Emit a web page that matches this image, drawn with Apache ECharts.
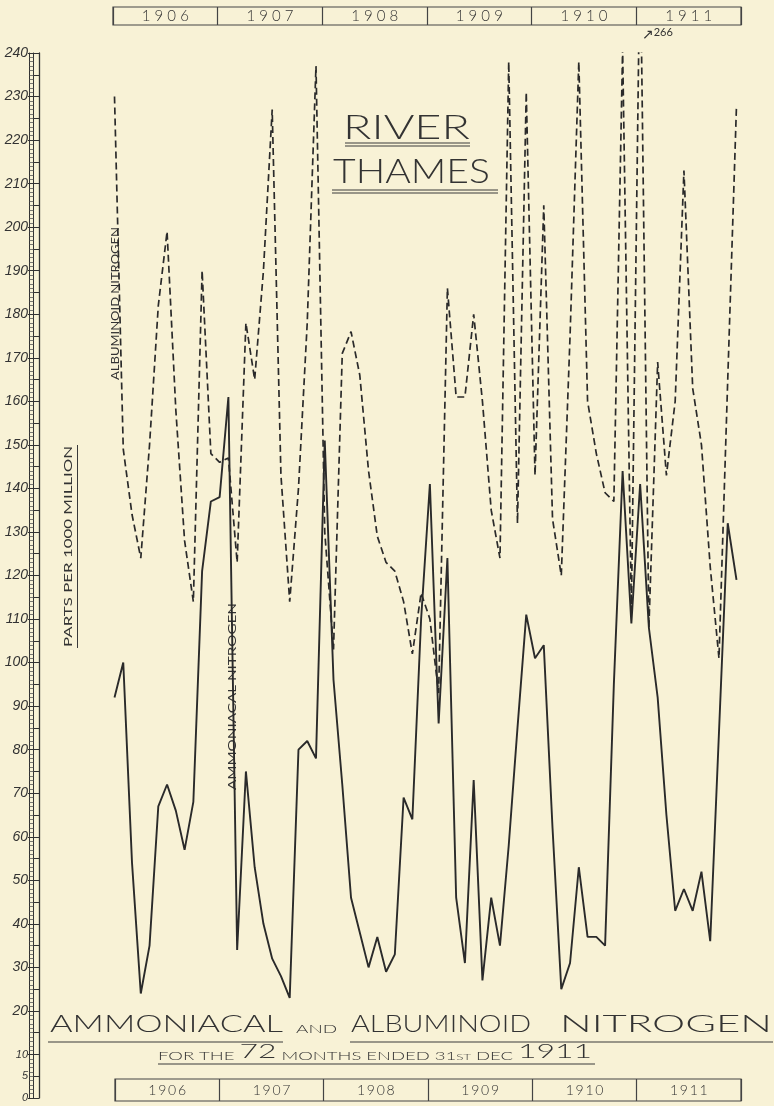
<!DOCTYPE html>
<html>
<head>
<meta charset="utf-8">
<script src="https://cdn.jsdelivr.net/npm/echarts@6/dist/echarts.min.js"></script>
<style>
html,body{margin:0;padding:0;background:#f8f2d6;}
#c{width:774px;height:1106px;}
</style>
</head>
<body>
<div id="c"></div>
<script>
// ---- data ----
const years = ['1906', '1907', '1908', '1909', '1910', '1911'];
const monthNames = ['Jan','Feb','Mar','Apr','May','Jun','Jul','Aug','Sep','Oct','Nov','Dec'];
const months = [];
years.forEach(y => monthNames.forEach(m => months.push(m + ' ' + y)));

// Ammoniacal nitrogen, parts per 1000 million (solid line)
const ammoniacal = [
  92, 100, 54, 24, 35, 67, 72, 66, 57, 68, 121, 137,
  138, 161, 34, 75, 53, 40, 32, 28, 23, 80, 82, 78,
  151, 96, 72, 46, 38, 30, 37, 29, 33, 69, 64, 110,
  141, 86, 124, 46, 31, 73, 27, 46, 35, 58, 85, 111,
  101, 104, 62, 25, 31, 53, 37, 37, 35, 95, 144, 109,
  141, 108, 92, 65, 43, 48, 43, 52, 36, 84, 132, 119
];
// Albuminoid nitrogen, parts per 1000 million (dashed line)
const albuminoid = [
  230, 149, 134, 124, 150, 182, 199, 158, 128, 114, 190, 148,
  146, 147, 123, 178, 165, 190, 227, 143, 114, 140, 178, 237,
  130, 103, 171, 176, 166, 144, 129, 123, 121, 114, 102, 116,
  110, 93, 186, 161, 161, 180, 160, 135, 124, 238, 132, 231,
  143, 205, 133, 120, 175, 238, 160, 148, 139, 137, 241, 112,
  266, 108, 169, 143, 160, 213, 163, 150, 122, 101, 165, 228
];
const offScaleIndex = 60; // the 266 reading runs off the top of the scale

// ---- style ----
const INK = '#333';
const LINE = '#2a2a2a';
const HAND = 'Lato, "Open Sans", "DejaVu Sans", sans-serif';

const ctx = document.createElement('canvas').getContext('2d');
function textW(font, s) { ctx.font = font; return ctx.measureText(s).width; }
function fitText(text, font, x1, x2, yc) {
  return { type: 'text', x: x1, y: yc, scaleX: (x2 - x1) / textW(font, text),
    style: { text: text, font: font, fill: INK, align: 'left', verticalAlign: 'middle' } };
}
function fitVert(text, font, xc, yTop, yBottom) {
  return { type: 'text', x: xc, y: yBottom, rotation: Math.PI / 2, scaleX: (yBottom - yTop) / textW(font, text),
    style: { text: text, font: font, fill: INK, align: 'left', verticalAlign: 'middle' } };
}
function hline(x1, x2, y, w) {
  return { type: 'line', shape: { x1: x1, y1: y, x2: x2, y2: y }, style: { stroke: '#3a3a3a', lineWidth: w || 1 } };
}

// subtitle rich text pieces
const subFontS = '300 11px ' + HAND, subFontB = '300 19px ' + HAND, subFontT = '300 8px ' + HAND;
const subPieces = [['FOR THE ', subFontS], ['72', subFontB], [' MONTHS ENDED 31', subFontS], ['ST', subFontT], [' DEC ', subFontS], ['1911', subFontB]];
const subW = subPieces.reduce((a, p) => a + textW(p[1], p[0]), 0);

const chart = echarts.init(document.getElementById('c'), null, { renderer: 'canvas' });

const yBase = { gridIndex: 0, type: 'value', min: 0, max: 240, position: 'left', splitLine: { show: false } };

const option = {
  backgroundColor: '#f8f2d6',
  animation: false,
  grid: [
    { left: 114.5, right: 37.5, top: 53, bottom: 8 },
    { left: 113, right: 33, top: 7, height: 18, show: true, borderColor: '#444', borderWidth: 1.2 },
    { left: 115, right: 33, top: 1079, height: 22, show: true, borderColor: '#444', borderWidth: 1.2 }
  ],
  xAxis: [
    { gridIndex: 0, type: 'category', data: months, boundaryGap: false, show: false },
    { gridIndex: 1, type: 'category', data: years, boundaryGap: true,
      axisLine: { show: false }, axisTick: { show: false },
      splitLine: { show: true, interval: 0, lineStyle: { color: '#444', width: 1.2 } },
      axisLabel: { interval: 0, margin: -16, color: INK, fontFamily: HAND, fontWeight: 300, fontSize: 15,
        formatter: v => v.split('').join(' ') } },
    { gridIndex: 2, type: 'category', data: years, boundaryGap: true,
      axisLine: { show: false }, axisTick: { show: false },
      splitLine: { show: true, interval: 0, lineStyle: { color: '#444', width: 1.2 } },
      axisLabel: { interval: 0, margin: -18, color: INK, fontFamily: HAND, fontWeight: 300, fontSize: 14,
        formatter: v => v.split('').join('\u2009') } }
  ],
  yAxis: [
    Object.assign({}, yBase, { interval: 5, offset: 75.5,
      axisLine: { show: true, lineStyle: { color: INK, width: 1.3 } }, axisTick: { show: false },
      axisLabel: { margin: 11, color: INK, fontFamily: 'Liberation Sans', fontStyle: 'italic', fontSize: 14,
        formatter: v => (v % 10 === 0 || v === 5) ? (v <= 10 ? '{s|' + v + '}' : String(v)) : '',
        rich: { s: { fontSize: 11, fontStyle: 'italic', fontFamily: 'Liberation Sans', color: INK } } } }),
    Object.assign({}, yBase, { interval: 10, offset: 75.5, axisLine: { show: false },
      axisTick: { show: true, length: 11, lineStyle: { color: INK, width: 1 } }, axisLabel: { show: false } }),
    Object.assign({}, yBase, { interval: 5, offset: 75.5, axisLine: { show: false },
      axisTick: { show: true, length: 6, lineStyle: { color: INK, width: 1 } }, axisLabel: { show: false } }),
    Object.assign({}, yBase, { interval: 10, offset: 81, axisLine: { show: true, lineStyle: { color: INK, width: 1 } },
      axisTick: { show: false }, axisLabel: { show: false },
      minorTick: { show: true, splitNumber: 10, length: 4, lineStyle: { color: '#555', width: 0.8 } } }),
    Object.assign({}, yBase, { interval: 10, offset: 85, axisLine: { show: true, lineStyle: { color: INK, width: 1 } },
      axisTick: { show: false }, axisLabel: { show: false } }),
    { gridIndex: 1, type: 'value', show: false },
    { gridIndex: 2, type: 'value', show: false }
  ],
  series: [
    { name: 'Albuminoid Nitrogen', type: 'line', xAxisIndex: 0, yAxisIndex: 0, data: albuminoid,
      symbol: 'none', clip: true, z: 3,
      lineStyle: { color: LINE, width: 1.7, type: [7, 4] },
      markPoint: { symbol: 'circle', symbolSize: 1, itemStyle: { color: 'rgba(0,0,0,0)' },
        data: [{ coord: [months[offScaleIndex], 240], value: albuminoid[offScaleIndex] }],
        label: { show: true, position: 'right', offset: [-4, -18], color: INK,
          formatter: p => '{a|\u2197}{b|' + p.value + '}',
          rich: { a: { fontSize: 14, color: INK }, b: { fontSize: 11, color: INK, fontFamily: HAND, padding: [0, 0, 6, 0] } } } } },
    { name: 'Ammoniacal Nitrogen', type: 'line', xAxisIndex: 0, yAxisIndex: 0, data: ammoniacal,
      symbol: 'none', clip: true, z: 4,
      lineStyle: { color: LINE, width: 1.9 } }
  ],
  graphic: [
    fitText('RIVER', '300 34px ' + HAND, 343, 470, 128),
    hline(345, 470, 143, 1), hline(345, 470, 146, 1),
    fitText('THAMES', '300 34px ' + HAND, 333, 490, 172),
    hline(332, 498, 190, 1), hline(332, 498, 193, 1),
    fitVert('ALBUMINOID NITROGEN', '11px ' + HAND, 115.5, 227, 380),
    fitVert('AMMONIACAL NITROGEN', '12px ' + HAND, 232.5, 603, 790),
    fitVert('PARTS PER 1000 MILLION', '11px ' + HAND, 68, 446, 647),
    { type: 'line', shape: { x1: 77.5, y1: 445, x2: 77.5, y2: 648 }, style: { stroke: '#3a3a3a', lineWidth: 1 } },
    fitText('AMMONIACAL', '300 23px ' + HAND, 50, 283, 1025),
    fitText('AND', '300 12px ' + HAND, 296, 337, 1029),
    fitText('ALBUMINOID', '300 23px ' + HAND, 351, 531, 1025),
    fitText('NITROGEN', '300 23px ' + HAND, 560, 772, 1025),
    hline(48, 283, 1042, 1.1), hline(350, 773, 1042, 1.1),
    { type: 'text', x: 158, y: 1052, scaleX: (592 - 158) / subW,
      style: { text: subPieces.map((p, i) => '{p' + i + '|' + p[0] + '}').join(''), fill: INK, align: 'left', verticalAlign: 'middle',
        rich: Object.fromEntries(subPieces.map((p, i) => ['p' + i, { font: p[1], fill: INK, verticalAlign: 'bottom' }])) } },
    hline(158, 595, 1064, 1)
  ]
};
chart.setOption(option);
</script>
</body>
</html>
